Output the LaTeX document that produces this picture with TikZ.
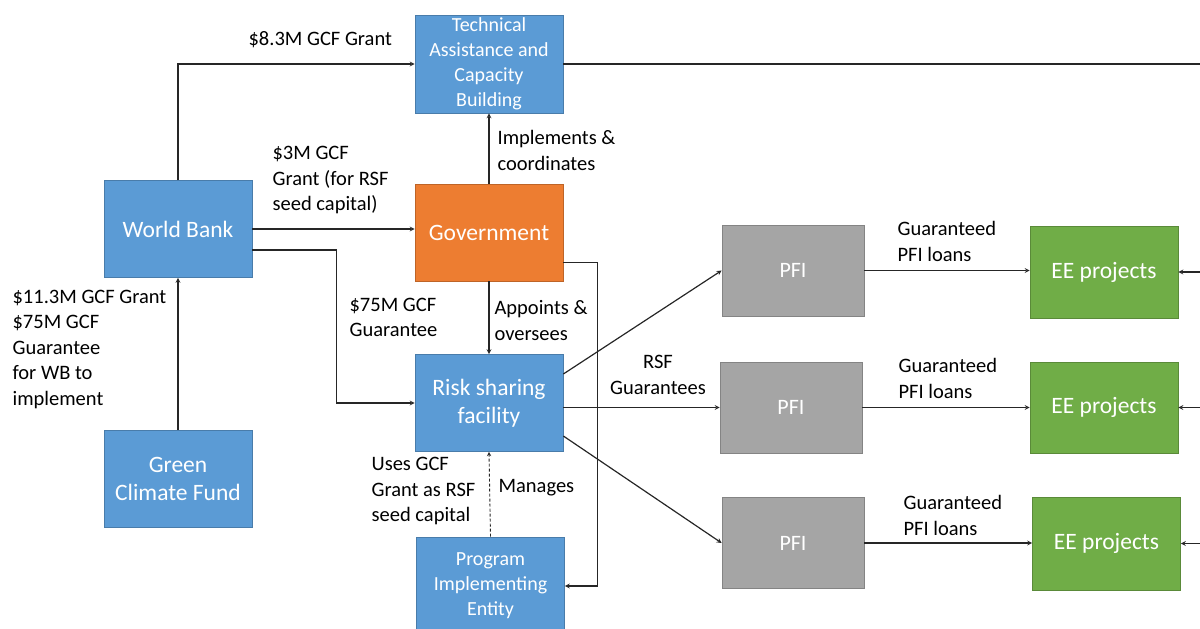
\documentclass[tikz,border=0pt]{standalone}
\usepackage{fontspec}
\setmainfont{Carlito}
\usepackage{tikz}
\usetikzlibrary{calc}
\definecolor{box_blue}{HTML}{5B9BD5}
\definecolor{box_orange}{HTML}{ED7D31}
\definecolor{box_gray}{HTML}{A5A5A5}
\definecolor{box_green}{HTML}{70AD47}
\definecolor{line_gray}{HTML}{262626}

\tikzset{
  entity/.style={draw=#1!80!black, fill=#1, text=white, line width=0.7pt,
    minimum width=148, minimum height=97, inner sep=0pt, align=center,
    font=\fontsize{23.5}{28}\selectfont},
  smalltext/.style={font=\fontsize{20}{25}\selectfont},
  flowlabel/.style={inner sep=0pt, anchor=west, align=left, text=black,
    font=\fontsize{20.5}{25.5}\selectfont},
}

\begin{document}
\begin{tikzpicture}[x=1pt, y=-1pt, >=stealth, line width=1.2pt, draw=line_gray]

        % Cadre de l'image
        \useasboundingbox (0,0) rectangle (1200,629);
        \coordinate (right_edge) at (1200,0);

        % Acteurs principaux
        \node[entity=box_blue] (wb) at (178,229) {World Bank};
        \node[entity=box_blue] (gcf) at (178,478.5) {Green\\Climate Fund};
        \node[entity=box_blue, smalltext, minimum height=98] (ta) at (489,64) {Technical\\Assistance and\\Capacity\\Building};
        \node[entity=box_orange] (gov) at (489,232.5) {Government};
        \node[entity=box_blue] (rsf) at (489,403) {Risk sharing\\facility};
        \node[entity=box_blue, smalltext, minimum height=98] (pie) at (490.5,586) {Program\\Implementing\\Entity};

        % Banques (PFI) et projets
        \node[entity=box_gray, font=\fontsize{22}{26}\selectfont, minimum width=142, minimum height=91] (pfi1) at (793,270.5) {PFI};
        \node[entity=box_gray, font=\fontsize{22}{26}\selectfont, minimum width=142, minimum height=91] (pfi2) at (791,407.5) {PFI};
        \node[entity=box_gray, font=\fontsize{22}{26}\selectfont, minimum width=142, minimum height=91] (pfi3) at (793,543) {PFI};
        \node[entity=box_green, minimum height=92] (ee1) at (1104,272) {EE projects};
        \node[entity=box_green, minimum height=91] (ee2) at (1104,407.5) {EE projects};
        \node[entity=box_green, minimum height=93] (ee3) at (1106.5,543.5) {EE projects};

        % Flux de la World Bank
        \draw[->] (wb.north) |- (ta.west);
        \draw (ta.east) -- (ta.east -| right_edge);
        \draw[->] (wb.east) -- (wb.east -| gov.west);
        \coordinate (wb_out) at ($(wb.east)+(0,21)$);
        \draw[->] (wb_out) -| ($(wb_out)!0.52!(rsf.west)$) |- (rsf.west);
        \draw[->] (gcf.north) -- (wb.south);

        % Flux du gouvernement
        \draw[->] (gov.north) -- (ta.south);
        \draw[->] (gov.south) -- (rsf.north);
        \coordinate (gov_out) at ($(gov.east)+(0,30)$);
        \draw[->] (gov_out) -- ++(34,0) |- (pie.east);
        \draw[->, densely dashed, line width=0.9pt] (pie.north) -- (rsf.south);

        % Garanties vers les PFI
        \draw[->] ($(rsf.east)+(0,-29)$) -- (pfi1.west);
        \draw[->] (rsf.east |- pfi2.west) -- (pfi2.west);
        \draw[->] ($(rsf.east)+(0,33)$) -- (pfi3.west);

        % Prets vers les projets
        \draw[->] (pfi1.east) -- (pfi1.east -| ee1.west);
        \draw[->] (pfi2.east) -- (pfi2.east -| ee2.west);
        \draw[->] (pfi3.east) -- (pfi3.east -| ee3.west);
        \draw[->] (ee1.east -| right_edge) -- (ee1.east);
        \draw[->] (ee2.east -| right_edge) -- (ee2.east);
        \draw[->] (ee3.east -| right_edge) -- (ee3.east);

        % Etiquettes des fleches
        \node[flowlabel] (l_ta) at (248,40) {\$8.3M GCF Grant};
        \node[flowlabel] (l_seed) at (272,180) {\$3M GCF\\Grant (for RSF\\seed capital)};
        \node[flowlabel] (l_guar) at (349,317.5) {\$75M GCF\\Guarantee};
        \node[flowlabel] (l_gcf) at (12,349) {\$11.3M GCF Grant\\\$75M GCF\\Guarantee\\for WB to\\implement};
        \node[flowlabel] (l_impl) at (497,150.5) {Implements \&\\coordinates};
        \node[flowlabel] (l_appt) at (494,320.5) {Appoints \&\\oversees};
        \node[flowlabel] (l_man) at (498,488) {Manages};
        \node[flowlabel] (l_uses) at (371,491) {Uses GCF\\Grant as RSF\\seed capital};
        \node[flowlabel, anchor=center, align=center] (l_rsf) at (658,375) {RSF\\Guarantees};
        \node[flowlabel] (l_loan1) at (897,241.5) {Guaranteed\\PFI loans};
        \node[flowlabel] (l_loan2) at (898,378.5) {Guaranteed\\PFI loans};
        \node[flowlabel] (l_loan3) at (903,515.5) {Guaranteed\\PFI loans};
    \end{tikzpicture}
\end{document}
